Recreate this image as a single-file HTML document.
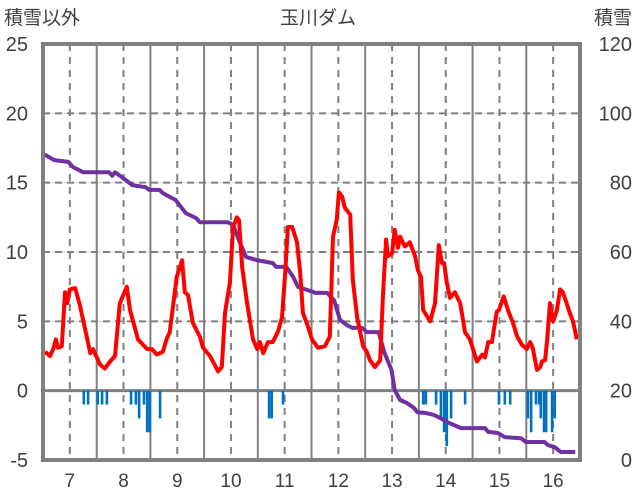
<!DOCTYPE html>
<html><head><meta charset="utf-8"><style>
html,body{margin:0;padding:0;background:#fff;}
svg{display:block;font-family:"Liberation Sans","Noto Sans CJK JP",sans-serif;}
</style></head><body>
<svg id="chart" width="636" height="501" viewBox="0 0 636 501">
<text x="4" y="24" font-size="19" fill="#404040">積雪以外</text>
<text x="318" y="24" font-size="19" fill="#404040" text-anchor="middle">玉川ダム</text>
<text x="632" y="24" font-size="19" fill="#404040" text-anchor="end">積雪</text>
<g id="grid"></g><g id="bars"></g><g id="lines"></g><g id="axes"></g>
</svg>
<script>
const leftTicks=[25,20,15,10,5,0,-5];
const rightTicks=[120,100,80,60,40,20,0];
const dayLabels=[7,8,9,10,11,12,13,14,15,16];
const tempT=[6.54,6.63,6.69,6.74,6.78,6.85,6.91,6.95,7.0,7.1,7.19,7.38,7.43,7.56,7.65,7.75,7.84,7.93,8.06,8.12,8.27,8.44,8.53,8.62,8.73,8.81,8.86,8.99,9.09,9.14,9.2,9.29,9.42,9.48,9.61,9.76,9.83,9.89,9.98,10.04,10.11,10.15,10.21,10.3,10.41,10.49,10.54,10.6,10.69,10.78,10.88,10.95,11.01,11.06,11.14,11.23,11.29,11.34,11.42,11.51,11.62,11.75,11.84,11.9,11.97,12.01,12.07,12.12,12.22,12.27,12.35,12.46,12.53,12.59,12.68,12.78,12.83,12.89,12.92,13.0,13.05,13.11,13.15,13.24,13.33,13.43,13.48,13.54,13.58,13.71,13.8,13.84,13.87,13.93,13.97,14.02,14.08,14.17,14.27,14.36,14.45,14.58,14.68,14.73,14.79,14.86,14.95,14.99,15.08,15.16,15.25,15.33,15.42,15.51,15.57,15.62,15.7,15.76,15.79,15.85,15.89,15.94,16.0,16.07,16.13,16.18,16.26,16.31,16.37,16.44];
const tempV=[2.8,2.5,3.0,3.7,3.1,3.2,7.1,6.3,7.3,7.4,6.1,2.7,3.0,1.9,1.6,2.1,2.5,6.3,7.5,5.8,3.7,3.0,3.0,2.6,2.8,3.8,4.2,8.2,9.4,7.1,6.9,4.9,3.9,3.1,2.5,1.4,1.7,5.6,7.8,11.8,12.5,12.3,8.9,6.3,3.7,3.0,3.5,2.7,3.5,3.5,4.3,5.3,8.5,11.8,11.8,10.7,8.5,5.6,4.8,3.7,3.1,3.2,3.9,11.1,12.3,14.3,14.0,13.2,12.7,8.0,5.3,3.2,2.8,2.2,1.7,2.2,6.8,10.9,9.7,9.9,11.6,10.3,11.1,10.4,10.7,9.7,8.7,8.2,5.8,5.0,6.3,8.7,10.5,9.2,9.2,7.8,6.7,7.1,6.3,4.2,3.7,2.1,2.6,2.4,3.5,3.5,5.7,5.8,6.8,5.8,4.9,3.9,3.3,3.0,3.5,3.1,1.5,1.7,2.1,2.2,3.7,6.3,5.0,5.8,7.3,7.1,6.2,5.6,5.0,3.7];
const snowT=[6.5,6.54,6.71,6.97,7.06,7.25,7.73,7.79,7.84,7.97,8.16,8.41,8.48,8.67,8.73,8.86,8.97,9.16,9.35,9.42,9.94,10.04,10.17,10.28,10.47,10.78,10.84,11.03,11.16,11.25,11.53,11.57,11.79,11.92,12.03,12.16,12.26,12.44,12.53,12.75,12.86,12.99,13.05,13.15,13.28,13.41,13.47,13.62,13.78,13.9,14.02,14.15,14.28,14.73,14.79,14.97,15.1,15.4,15.49,15.84,15.9,16.03,16.14,16.41];
const snowV=[88,88,86.5,86,84.5,83,83,82,83,81.6,79.3,78.7,77.9,77.9,77,75.9,75,71.2,69.8,68.6,68.6,67.8,62.6,58.6,57.7,56.8,55.7,55.7,52.8,49.9,48.5,48.2,48.2,46.1,40.4,38.9,38.1,38.1,36.9,36.9,30.9,26,20.2,17.3,16.4,15,13.8,13.6,13,12.1,11,10.1,9.2,9.2,8.1,7.8,6.6,6.3,5.2,5.2,4.3,3.7,2.3,2.3];
const precipT=[7.26,7.34,7.52,7.6,7.69,8.14,8.23,8.29,8.38,8.44,8.49,8.68,10.71,10.76,10.97,13.58,13.63,13.82,13.91,13.97,14.02,14.1,14.36,14.99,15.1,15.2,15.53,15.59,15.68,15.74,15.77,15.83,15.87,15.98,16.03];
const precipV=[-1,-1,-1,-1,-1,-1,-1,-2,-1,-3,-3,-2,-2,-2,-1,-1,-1,-1,-2,-3,-4,-2,-1,-1,-1,-1,-2,-3,-1,-1,-2,-3,-3,-3,-2];

const X0=43,X1=580,Y0=44,Y1=460,T0=6.5,T1=16.5;
const xs=t=>X0+(t-T0)/(T1-T0)*(X1-X0);
const yl=v=>Y1-(v+5)/30*(Y1-Y0);
const yr=v=>Y1-v/120*(Y1-Y0);
const NS='http://www.w3.org/2000/svg';
function mk(tag,attrs,parent){const e=document.createElementNS(NS,tag);for(const k in attrs)e.setAttribute(k,attrs[k]);document.getElementById(parent).appendChild(e);return e;}
leftTicks.forEach(v=>{
  if(v===25||v===-5)return;
  if(v===0){const g=mk('line',{x1:X0,x2:X1,y1:yl(0),y2:yl(0),stroke:'#808080','stroke-width':3},'grid');

return;}
  mk('line',{x1:X0,x2:X1,y1:yl(v),y2:yl(v),stroke:'#d9d9d9','stroke-width':1},'grid');
  const g=mk('line',{x1:X0,x2:X1,y1:yl(v),y2:yl(v),stroke:'#808080','stroke-width':2,'stroke-dasharray':'7,5'},'grid');
  
  
});
for(let d=7;d<=16;d++){
  const g=mk('line',{x1:xs(d),x2:xs(d),y1:Y0,y2:Y1,stroke:'#808080','stroke-width':2,'stroke-dasharray':'7,6'},'grid');
  
  
  if(d<16){const m=mk('line',{x1:xs(d+0.5),x2:xs(d+0.5),y1:Y0,y2:Y1,stroke:'#808080','stroke-width':2},'grid');
  
  }
}
precipT.forEach((t,i)=>{
  const y=yl(0),h=yl(precipV[i])-y;
  const b=mk('rect',{x:xs(t)-1.3,y:y,width:2.6,height:h,fill:'#0070c0'},'bars');
  
  
});
const sp=snowT.map((t,i)=>xs(t).toFixed(1)+','+yr(snowV[i]).toFixed(1)).join(' ');
const s=mk('polyline',{points:sp,fill:'none',stroke:'#7030a0','stroke-width':4,'stroke-linejoin':'round'},'lines');


const tp=tempT.map((t,i)=>xs(t).toFixed(1)+','+yl(tempV[i]).toFixed(1)).join(' ');
const r=mk('polyline',{points:tp,fill:'none',stroke:'#ff0000','stroke-width':4,'stroke-linejoin':'round'},'lines');


const f=mk('rect',{x:X0,y:Y0,width:X1-X0,height:Y1-Y0,fill:'none',stroke:'#808080','stroke-width':4},'axes');


leftTicks.forEach(v=>{
  const t=mk('text',{x:28,y:yl(v)+7,'font-size':20,fill:'#404040','text-anchor':'end','font-family':'"Liberation Sans Narrow","Liberation Sans",sans-serif'},'axes');t.textContent=v;
  
  
});
rightTicks.forEach(v=>{
  const t=mk('text',{x:632,y:yr(v)+7,'font-size':20,fill:'#404040','text-anchor':'end','font-family':'"Liberation Sans Narrow","Liberation Sans",sans-serif'},'axes');t.textContent=v;
  
  
});
dayLabels.forEach(d=>{
  const t=mk('text',{x:xs(d),y:487,'font-size':19,fill:'#404040','text-anchor':'middle'},'axes');t.textContent=d;
  
  
});
</script>
</body></html>
